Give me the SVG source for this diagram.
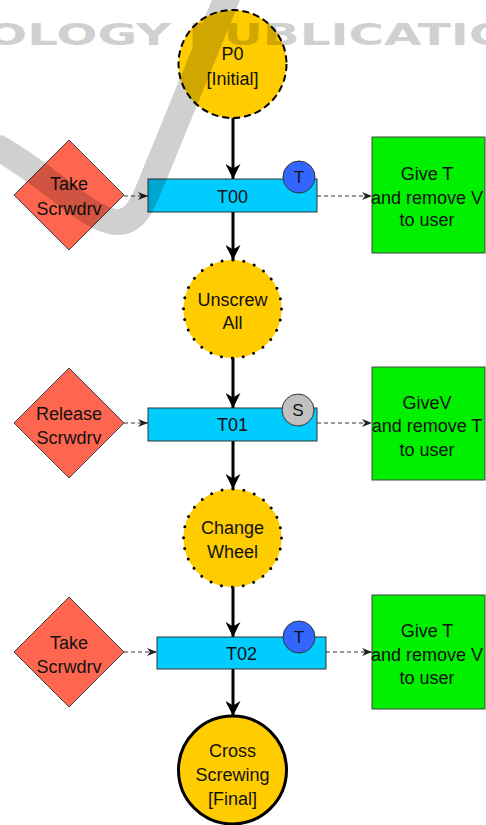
<svg xmlns="http://www.w3.org/2000/svg" width="486" height="825" viewBox="0 0 486 825">
<defs>
<marker id="ah" viewBox="0 0 10 10" refX="10" refY="5" markerWidth="5" markerHeight="5" orient="auto" markerUnits="strokeWidth">
<path d="M0,0 L10,5 L0,10 L3,5 z" fill="#000"/>
</marker>
<marker id="ad" viewBox="0 0 10 10" refX="10" refY="5" markerWidth="10" markerHeight="10" orient="auto" markerUnits="strokeWidth">
<path d="M0,1 L10,5 L0,9 L3,5 z" fill="#222"/>
</marker>
<style>
text{font-family:"Liberation Sans",Arial,sans-serif;font-size:18px;fill:#111;text-anchor:middle}
.place{fill:#FFCC00}
.dash{stroke:#000;stroke-width:2;stroke-dasharray:7 4}
.dot{stroke:#000;stroke-width:3;stroke-dasharray:0 11;stroke-linecap:round}
.final{stroke:#000;stroke-width:3}
.trans{fill:#00CCFF;stroke:#333;stroke-width:1}
.dia{fill:#FF6650;stroke:#444;stroke-width:1}
.box{fill:#00F000;stroke:#444;stroke-width:1}
.main{stroke:#000;stroke-width:3;fill:none;marker-end:url(#ah)}
.side{stroke:#333;stroke-width:1;stroke-dasharray:4 3;fill:none;marker-end:url(#ad)}
.badge{stroke:#333;stroke-width:1}
</style>
</defs>
<rect width="486" height="825" fill="#fff"/>

<g id="connectors">
<line class="main" x1="233" y1="118" x2="233" y2="179"/>
<line class="main" x1="233" y1="212" x2="233" y2="260"/>
<line class="main" x1="233" y1="358" x2="233" y2="408"/>
<line class="main" x1="233" y1="441" x2="233" y2="489"/>
<line class="main" x1="233" y1="587" x2="233" y2="637"/>
<line class="main" x1="233" y1="669" x2="233" y2="716"/>
<line class="side" x1="124" y1="196" x2="148" y2="196"/>
<line class="side" x1="317" y1="196" x2="372" y2="196"/>
<line class="side" x1="124" y1="423" x2="148" y2="423"/>
<line class="side" x1="317" y1="423" x2="372" y2="423"/>
<line class="side" x1="124" y1="652" x2="157" y2="652"/>
<line class="side" x1="326" y1="652" x2="372" y2="652"/>
</g>

<g id="P0">
<circle class="place dash" cx="232.5" cy="64" r="54"/>
<text x="232.5" y="59.5">P0</text>
<text x="232.5" y="84.5">[Initial]</text>
</g>

<g id="T00">
<rect class="trans" x="148" y="179" width="169" height="33"/>
<text x="232.5" y="202.5">T00</text>
<circle class="badge" cx="299" cy="177" r="16" fill="#3366FF"/>
<text x="299" y="183" style="font-size:17px">T</text>
</g>

<g id="D0">
<polygon class="dia" points="69,140 124,195 69,250 14,195"/>
<text x="69" y="189.5">Take</text>
<text x="69" y="214.5">Scrwdrv</text>
</g>

<g id="B0">
<rect class="box" x="372" y="137" width="113" height="116"/>
<text x="427" y="179.5">Give T</text>
<text x="427" y="203.5">and remove V</text>
<text x="427" y="225.5">to user</text>
</g>

<g id="P1">
<circle class="place dot" cx="232.5" cy="309" r="49"/>
<text x="232.5" y="305.5">Unscrew</text>
<text x="232.5" y="328.5">All</text>
</g>

<g id="T01">
<rect class="trans" x="148" y="408" width="169" height="33"/>
<text x="232.5" y="431">T01</text>
<circle class="badge" cx="298" cy="410" r="16" fill="#C0C0C0"/>
<text x="298" y="416" style="font-size:17px">S</text>
</g>

<g id="D1">
<polygon class="dia" points="69,368 124,423 69,478 14,423"/>
<text x="69" y="419.5">Release</text>
<text x="69" y="443.5">Scrwdrv</text>
</g>

<g id="B1">
<rect class="box" x="372" y="367" width="113" height="113"/>
<text x="427" y="408.5">GiveV</text>
<text x="427" y="431.5">and remove T</text>
<text x="427" y="455.5">to user</text>
</g>

<g id="P2">
<circle class="place dot" cx="232.5" cy="538" r="49"/>
<text x="232.5" y="533.5">Change</text>
<text x="232.5" y="557.5">Wheel</text>
</g>

<g id="T02">
<rect class="trans" x="157" y="637" width="169" height="32"/>
<text x="241.5" y="659.5">T02</text>
<circle class="badge" cx="299" cy="637" r="16" fill="#3366FF"/>
<text x="299" y="643" style="font-size:17px">T</text>
</g>

<g id="D2">
<polygon class="dia" points="69,597 124,652 69,707 14,652"/>
<text x="69" y="648.5">Take</text>
<text x="69" y="672.5">Scrwdrv</text>
</g>

<g id="B2">
<rect class="box" x="372" y="595" width="113" height="114"/>
<text x="427" y="636.5">Give T</text>
<text x="427" y="660.5">and remove V</text>
<text x="427" y="683.5">to user</text>
</g>

<g id="P3">
<circle class="place final" cx="232.5" cy="770" r="54"/>
<text x="232.5" y="756.5">Cross</text>
<text x="232.5" y="780.5">Screwing</text>
<text x="232.5" y="804.5">[Final]</text>
</g>

<g id="watermark" opacity="0.18">
<path d="M-5,146 C50,176 88,220 116,222 C134,223 142,206 150,186 L228,-5" fill="none" stroke="#000" stroke-width="26" stroke-linejoin="round"/>
<text x="-14" y="45" textLength="524" lengthAdjust="spacingAndGlyphs" style="font-family:'DejaVu Sans',sans-serif;font-weight:bold;font-size:31px;fill:#000;text-anchor:start">OLOGY PUBLICATIO</text>
</g>
</svg>
